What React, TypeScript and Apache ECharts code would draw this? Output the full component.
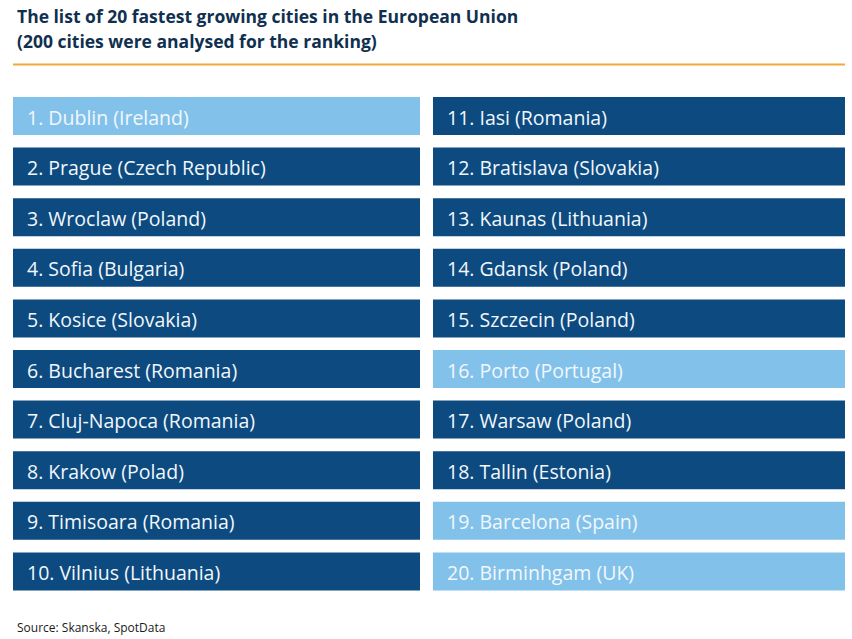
import React, { useEffect, useRef } from "react";
import * as echarts from "echarts";

const titleLines = [
  "The list of 20 fastest growing cities in the European Union",
  "(200 cities were analysed for the ranking)",
];
const sourceText = "Source: Skanska, SpotData";

const cities = [
  "Dublin (Ireland)",
  "Prague (Czech Republic)",
  "Wroclaw (Poland)",
  "Sofia (Bulgaria)",
  "Kosice (Slovakia)",
  "Bucharest (Romania)",
  "Cluj-Napoca (Romania)",
  "Krakow (Polad)",
  "Timisoara (Romania)",
  "Vilnius (Lithuania)",
  "Iasi (Romania)",
  "Bratislava (Slovakia)",
  "Kaunas (Lithuania)",
  "Gdansk (Poland)",
  "Szczecin (Poland)",
  "Porto (Portugal)",
  "Warsaw (Poland)",
  "Tallin (Estonia)",
  "Barcelona (Spain)",
  "Birminhgam (UK)",
];
// 1 = Western Europe (light blue), 0 = CEE (dark blue)
const western = [1, 0, 0, 0, 0, 0, 0, 0, 0, 0, 0, 0, 0, 0, 0, 1, 0, 0, 1, 1];
const rowsPerColumn = 10;

const DARK = "#0c4a7f";
const LIGHT = "#82c2ea";

export default function App() {
  const ref = useRef<HTMLDivElement>(null);
  useEffect(() => {
    if (!ref.current) return;
    const chart = echarts.init(ref.current, null, { renderer: "svg" });
    const data = cities.map((c, i) => {
      const col = Math.floor(i / rowsPerColumn);
      const row = i % rowsPerColumn;
      return { value: [col, row, i + 1, western[i]], name: `${i + 1}. ${c}` };
    });
    const BOX_H = 38;
    chart.setOption({
      animation: false,
      backgroundColor: "#ffffff",
      title: [
        {
          text: titleLines.join("\n"),
          left: 12,
          top: -2,
          textStyle: {
            fontFamily: "Open Sans",
            fontWeight: "bold",
            fontSize: 17.5,
            lineHeight: 25,
            color: "#10304f",
          },
        },
        {
          text: sourceText,
          left: 12,
          top: 616,
          textStyle: {
            fontFamily: "Open Sans",
            fontWeight: "normal",
            fontSize: 12,
            color: "#1a1a1a",
          },
        },
      ],
      graphic: [
        {
          type: "line",
          shape: { x1: 13, y1: 64.5, x2: 845, y2: 64.5 },
          style: { stroke: "#f0aa3c", lineWidth: 2 },
        },
      ],
      grid: { left: 13, right: 7, top: 90.7, bottom: 42.3 },
      xAxis: { type: "value", min: 0, max: 2, show: false },
      yAxis: {
        type: "category",
        data: Array.from({ length: rowsPerColumn }, (_, i) => String(i)),
        inverse: true,
        show: false,
      },
      series: [
        {
          type: "custom",
          data,
          encode: { x: 0, y: 1 },
          renderItem: (params: any, api: any) => {
            const col = api.value(0);
            const row = api.value(1);
            const rank = api.value(2);
            const isWest = api.value(3) === 1;
            const p = api.coord([col, row]);
            const colW = api.size([1, 0])[0];
            const x = p[0] + (col ? 4 : 0);
            const w = col ? colW - 4 : colW - 9;
            const name = `${rank}. ${cities[rank - 1]}`;
            return {
              type: "group",
              children: [
                {
                  type: "rect",
                  shape: { x, y: p[1] - BOX_H / 2, width: w, height: BOX_H },
                  style: { fill: isWest ? LIGHT : DARK },
                },
                {
                  type: "text",
                  style: {
                    text: name,
                    x: x + 14,
                    y: p[1] + 1,
                    fill: "#f2f7fc",
                    font: '19.5px "Open Sans"',
                    textVerticalAlign: "middle",
                    verticalAlign: "middle",
                  },
                },
              ],
            };
          },
        },
      ],
    });
    return () => chart.dispose();
  }, []);
  return <div ref={ref} style={{ width: 852, height: 639, position: "absolute", left: 0, top: 0 }} />;
}
